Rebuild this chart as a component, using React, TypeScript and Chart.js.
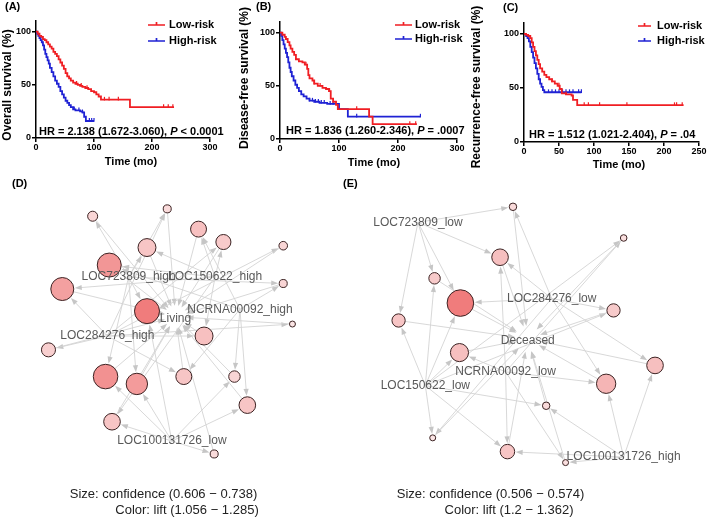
import React, { useEffect, useRef } from "react";
import { Chart, registerables } from "chart.js";
Chart.register(...registerables);

const FONT = '"Liberation Sans", Arial, Helvetica, sans-serif';
const RED = "#f01e23";
const BLUE = "#1f22d4";

// ---------- (A) Overall survival ----------
const osLowT = [0, 3, 6, 9, 12, 15, 18, 21, 24, 27, 30, 33, 36, 39, 42, 45, 48, 51, 54, 57, 60, 64, 68, 72, 76, 80, 85, 90, 95, 100, 104, 108, 112, 162, 238];
const osLowS = [100, 98, 96, 95, 93, 92, 90, 88, 86, 84, 81, 79, 77, 74, 71, 68, 65, 61, 58, 56, 54, 52, 51, 50, 49, 48, 47, 46, 44, 43, 41, 39, 36, 29, 29];
const osLowCensor = [54, 70, 78, 88, 118, 126, 142, 220, 228, 236];
const osHighT = [0, 2, 4, 6, 8, 10, 12, 14, 16, 18, 20, 22, 24, 27, 30, 33, 36, 39, 42, 45, 48, 51, 54, 57, 60, 64, 68, 72, 76, 80, 83, 86, 100];
const osHighS = [100, 98, 96, 94, 92, 90, 87, 83, 79, 76, 73, 70, 66, 62, 58, 54, 51, 48, 44, 41, 38, 35, 33, 31, 29, 27, 26, 26, 25, 24, 20, 16, 16];
const osHighCensor = [66, 74, 80, 92, 96, 100];

// ---------- (B) Disease-free survival ----------
const dfsLowT = [0, 4, 8, 10, 13, 16, 18, 21, 24, 27, 32, 38, 42, 46, 48, 50, 55, 58, 64, 72, 78, 83, 86, 90, 95, 98, 151, 157, 232];
const dfsLowS = [100, 98, 96, 94, 91, 88, 85, 82, 79, 75, 73, 72, 70, 66, 60, 57, 55, 52, 50, 48, 47, 45, 38, 35, 32, 28, 21, 14, 14];
const dfsLowCensor = [44, 58, 68, 84, 130, 220, 230];
const dfsHighT = [0, 2, 4, 6, 8, 10, 12, 14, 16, 18, 20, 23, 26, 29, 32, 36, 40, 45, 50, 58, 67, 80, 100, 115, 238];
const dfsHighS = [100, 97, 93, 89, 85, 81, 77, 72, 67, 63, 59, 55, 51, 48, 45, 42, 40, 38, 36, 35, 34, 33, 28, 21, 21];
const dfsHighCensor = [50, 55, 60, 65, 70, 75, 85, 90, 130, 238];

// ---------- (C) Recurrence-free survival ----------
const rfsLowT = [0, 3, 6, 9, 11, 13, 15, 17, 19, 21, 23, 26, 29, 32, 36, 40, 44, 48, 51, 54, 60, 68, 70, 76, 228];
const rfsLowS = [100, 99, 98, 96, 92, 88, 84, 80, 76, 72, 68, 65, 62, 60, 58, 56, 54, 52, 49, 45, 44, 43, 39, 34, 34];
const rfsLowCensor = [40, 50, 60, 86, 92, 108, 147, 215, 218, 226];
const rfsHighT = [0, 3, 5, 7, 9, 11, 13, 15, 17, 19, 21, 23, 25, 27, 29, 82];
const rfsHighS = [100, 98, 96, 93, 88, 83, 78, 73, 68, 63, 58, 54, 51, 48, 46, 46];
const rfsHighCensor = [35, 40, 45, 50, 55, 60, 65, 70, 78, 82];

const survTicks = [0, 50, 100];

// ---------- (D) rules -> Living ----------
const livingItems = ["LOC723809_high", "LOC150622_high", "NCRNA00092_high", "LOC284276_high", "LOC100131726_low"];
const livingItemX = [125, 219, 246, 102, 172];
const livingItemY = [95, 95, 130, 159, 273];
const livingRuleX = [86, 167, 201, 228, 145, 104, 293, 293, 53, 145, 303, 207, 38, 100, 134, 185, 240, 254, 107, 218];
const livingRuleY = [29, 21, 43, 57, 63, 82, 61, 102, 108, 132, 146, 159, 174, 203, 211, 203, 203, 234, 252, 287];
const livingRuleConf = [0.634, 0.62, 0.675, 0.669, 0.689, 0.731, 0.624, 0.62, 0.724, 0.738, 0.606, 0.689, 0.662, 0.735, 0.713, 0.675, 0.644, 0.68, 0.68, 0.62];
const livingRuleLift = [1.09, 1.079, 1.136, 1.113, 1.125, 1.228, 1.09, 1.09, 1.205, 1.285, 1.056, 1.136, 1.102, 1.239, 1.216, 1.125, 1.09, 1.125, 1.125, 1.079];
const livingRuleLhs = [[0], [0, 3], [1, 2], [1, 3], [0, 1], [1, 2], [3], [0, 2], [1, 3], [0, 4], [3], [1, 3], [3], [0, 4], [0, 4], [2, 3], [2, 4], [2, 4], [4, 1], [4]];

// ---------- (E) rules -> Deceased ----------
const deceasedItems = ["LOC723809_low", "LOC284276_low", "NCRNA00092_low", "LOC150622_low", "LOC100131726_high"];
const deceasedItemX = [69, 214, 164, 77, 292];
const deceasedItemY = [35, 118, 198, 213, 291];
const deceasedRuleX = [172, 292, 158, 87, 115, 281, 48, 114, 326, 273, 208, 85, 166, 229];
const deceasedRuleY = [18, 52, 73, 96, 123, 131, 142, 177, 191, 211, 235, 270, 285, 297];
const deceasedRuleConf = [0.511, 0.508, 0.541, 0.524, 0.574, 0.53, 0.53, 0.546, 0.541, 0.55, 0.511, 0.506, 0.534, 0.506];
const deceasedRuleLift = [1.216, 1.208, 1.257, 1.241, 1.362, 1.241, 1.249, 1.257, 1.257, 1.273, 1.216, 1.2, 1.249, 1.208];
const deceasedRuleLhs = [[0, 1], [3, 2], [0, 1, 2], [0, 3], [0, 1, 3], [1, 3], [0, 3], [2, 3], [1, 4], [2, 4, 1], [3, 4], [3, 1], [2, 3, 4], [2, 4]];

// ---------------------------------------------------------------

const stepAt = (t: number[], s: number[], x: number) => {
  let v = s[0];
  for (let i = 0; i < t.length; i++) if (t[i] <= x) v = s[i];
  return v;
};

type KM = {
  panel: string; yTitle: string; hr: string[]; xMax: number; xStep: number;
  lowT: number[]; lowS: number[]; lowC: number[]; highT: number[]; highS: number[]; highC: number[];
  w: number; h: number; axisW: number; axisH: number; padTop: number; padRight: number;
  panelX: number; panelY: number; yTitleX: number; yTitleY: number; xTitleX: number; xTitleY: number;
  hrX: number; hrY: number; legX1: number; legX2: number; legTX: number; legY: number[];
};

function kmPlugin(p: KM) {
  return {
    id: "kmText",
    afterDraw(chart: any) {
      const ctx = chart.ctx;
      ctx.save();
      ctx.fillStyle = "#000";
      ctx.textBaseline = "middle";
      ctx.textAlign = "left";
      ctx.font = `bold 11px ${FONT}`;
      ctx.fillText(p.panel, p.panelX, p.panelY);
      ctx.textAlign = "center";
      ctx.fillText("Time (mo)", p.xTitleX, p.xTitleY);
      ctx.save();
      ctx.translate(p.yTitleX, p.yTitleY);
      ctx.rotate(-Math.PI / 2);
      ctx.font = `bold 12px ${FONT}`;
      ctx.fillText(p.yTitle, 0, 0);
      ctx.restore();
      ctx.textAlign = "left";
      let x = p.hrX;
      p.hr.forEach((seg, i) => {
        ctx.font = `${i === 1 ? "italic " : ""}bold 11px ${FONT}`;
        ctx.fillText(seg, x, p.hrY);
        x += ctx.measureText(seg).width;
      });
      const ds = chart.data.datasets;
      [ds[0], ds[2]].forEach((d: any, i: number) => {
        const y = p.legY[i];
        ctx.strokeStyle = d.borderColor;
        ctx.lineWidth = 1.7;
        ctx.beginPath();
        ctx.moveTo(p.legX1, y);
        ctx.lineTo(p.legX2, y);
        const m = (p.legX1 + p.legX2) / 2;
        ctx.moveTo(m, y);
        ctx.lineTo(m, y - 3);
        ctx.stroke();
        ctx.fillStyle = "#000";
        ctx.font = `bold 11px ${FONT}`;
        ctx.fillText(d.label, p.legTX, y);
      });
      ctx.restore();
    },
  };
}

function kmConfig(p: KM): any {
  const curve = (t: number[], s: number[], color: string, label: string) => ({
    label, data: t.map((x, i) => ({ x, y: s[i] })), borderColor: color, backgroundColor: color,
    borderWidth: 1.8, stepped: "before", pointRadius: 0, fill: false, clip: false,
  });
  const cens = (t: number[], s: number[], c: number[], color: string, label: string) => ({
    label, data: c.map((x) => ({ x, y: stepAt(t, s, x) + 1 })), showLine: false, borderColor: color,
    backgroundColor: color, pointStyle: "line", pointRotation: 90, pointRadius: 1.8, pointBorderWidth: 1.2, clip: false,
  });
  const tickFont = { family: FONT, size: 9, weight: "bold" };
  return {
    type: "line",
    data: {
      datasets: [
        curve(p.lowT, p.lowS, RED, "Low-risk"),
        cens(p.lowT, p.lowS, p.lowC, RED, "Low-risk censored"),
        curve(p.highT, p.highS, BLUE, "High-risk"),
        cens(p.highT, p.highS, p.highC, BLUE, "High-risk censored"),
      ],
    },
    options: {
      responsive: false, animation: false, devicePixelRatio: 1, events: [],
      layout: { padding: { left: 0, top: p.padTop, right: p.padRight, bottom: 0 } },
      plugins: { legend: { display: false }, tooltip: { enabled: false }, title: { display: false } },
      scales: {
        x: {
          type: "linear", min: 0, max: p.xMax,
          ticks: { stepSize: p.xStep, font: tickFont, color: "#000", padding: 0, maxRotation: 0 },
          grid: { drawOnChartArea: false, drawTicks: true, tickLength: 4, color: "#000", lineWidth: 1.5 },
          border: { display: true, color: "#000", width: 1.5 },
          afterFit: (s: any) => { s.height = p.axisH; },
        },
        y: {
          type: "linear", min: 0, max: 110,
          afterBuildTicks: (s: any) => { s.ticks = survTicks.map((v) => ({ value: v })); },
          ticks: { font: tickFont, color: "#000", padding: 1 },
          grid: { drawOnChartArea: false, drawTicks: true, tickLength: 4, color: "#000", lineWidth: 1.5 },
          border: { display: true, color: "#000", width: 1.5 },
          afterFit: (s: any) => { s.width = p.axisW; },
        },
      },
    },
    plugins: [kmPlugin(p)],
  };
}

type Net = {
  panel: string; items: string[]; itemX: number[]; itemY: number[];
  ruleX: number[]; ruleY: number[]; conf: number[]; lift: number[]; lhs: number[][];
  confRange: [number, number]; liftRange: [number, number]; rMax: number;
  target: string; targetX: number; targetY: number; targetGap: number;
  w: number; h: number; sizeText: string; colorText: string;
  sizeX: number; colorX: number; legY1: number; legY2: number; panelX: number; panelY: number;
};

function netConfig(n: Net): any {
  const radius = (c: number) => 3 + ((c - n.confRange[0]) / (n.confRange[1] - n.confRange[0])) * (n.rMax - 3);
  const colorOf = (l: number) => {
    const t = Math.max(0, Math.min(1, (l - n.liftRange[0]) / (n.liftRange[1] - n.liftRange[0])));
    const r = Math.round(250 + (240 - 250) * t);
    const g = Math.round(228 + (124 - 228) * t);
    return `rgb(${r},${g},${g})`;
  };
  const arrow = (ctx: any, ax: number, ay: number, bx: number, by: number, g0: number, g1: number) => {
    const dx = bx - ax, dy = by - ay, L = Math.hypot(dx, dy);
    if (L < g0 + g1 + 2) return;
    const ux = dx / L, uy = dy / L;
    const sx = ax + ux * g0, sy = ay + uy * g0;
    const ex = bx - ux * g1, ey = by - uy * g1;
    const al = 7, aw = 2.6;
    ctx.strokeStyle = "#d4d4d4";
    ctx.lineWidth = 0.9;
    ctx.beginPath();
    ctx.moveTo(sx, sy);
    ctx.lineTo(ex - ux * al * 0.7, ey - uy * al * 0.7);
    ctx.stroke();
    ctx.fillStyle = "#c6c6c6";
    ctx.beginPath();
    ctx.moveTo(ex, ey);
    ctx.lineTo(ex - ux * al - uy * aw, ey - uy * al + ux * aw);
    ctx.lineTo(ex - ux * al + uy * aw, ey - uy * al - ux * aw);
    ctx.closePath();
    ctx.fill();
  };
  const plugin = {
    id: "netDraw",
    beforeDatasetsDraw(chart: any) {
      const ctx = chart.ctx, xs = chart.scales.x, ys = chart.scales.y;
      const tx = xs.getPixelForValue(n.targetX), ty = ys.getPixelForValue(n.targetY);
      ctx.save();
      n.ruleX.forEach((rx, i) => {
        const px = xs.getPixelForValue(rx), py = ys.getPixelForValue(n.ruleY[i]);
        const r = radius(n.conf[i]);
        n.lhs[i].forEach((j) => {
          arrow(ctx, xs.getPixelForValue(n.itemX[j]), ys.getPixelForValue(n.itemY[j]), px, py, 0, r + 1);
        });
        arrow(ctx, px, py, tx, ty, r, n.targetGap);
      });
      ctx.restore();
    },
    afterDatasetsDraw(chart: any) {
      const ctx = chart.ctx, xs = chart.scales.x, ys = chart.scales.y;
      ctx.save();
      ctx.textBaseline = "middle";
      ctx.textAlign = "center";
      ctx.fillStyle = "#595959";
      ctx.font = `12px ${FONT}`;
      n.items.forEach((it, j) => ctx.fillText(it, xs.getPixelForValue(n.itemX[j]), ys.getPixelForValue(n.itemY[j])));
      ctx.fillText(n.target, xs.getPixelForValue(n.targetX), ys.getPixelForValue(n.targetY) + 2);
      ctx.fillStyle = "#222";
      ctx.font = `13px ${FONT}`;
      ctx.fillText(n.sizeText, n.sizeX, n.legY1);
      ctx.fillText(n.colorText, n.colorX, n.legY2);
      ctx.fillStyle = "#000";
      ctx.textAlign = "left";
      ctx.font = `bold 11px ${FONT}`;
      ctx.fillText(n.panel, n.panelX, n.panelY);
      ctx.restore();
    },
  };
  return {
    type: "scatter",
    data: {
      datasets: [
        {
          label: "rules",
          data: n.ruleX.map((x, i) => ({ x, y: n.ruleY[i], conf: n.conf[i], lift: n.lift[i] })),
          pointRadius: (c: any) => radius(c.raw.conf),
          pointBackgroundColor: (c: any) => colorOf(c.raw.lift),
          pointBorderColor: "#3b2222",
          pointBorderWidth: 1,
          clip: false,
        },
      ],
    },
    options: {
      responsive: false, animation: false, devicePixelRatio: 1, events: [],
      layout: { padding: 0 },
      plugins: { legend: { display: false }, tooltip: { enabled: false } },
      scales: {
        x: { type: "linear", display: false, min: 0, max: n.w },
        y: { type: "linear", display: false, min: 0, max: n.h, reverse: true },
      },
    },
    plugins: [plugin],
  };
}

const panelA: KM = {
  panel: "(A)", yTitle: "Overall survival (%)", hr: ["HR = 2.138 (1.672-3.060), ", "P", " < 0.0001"], xMax: 300, xStep: 100,
  lowT: osLowT, lowS: osLowS, lowC: osLowCensor, highT: osHighT, highS: osHighS, highC: osHighCensor,
  w: 235, h: 176, axisW: 36, axisH: 38, padTop: 21, padRight: 25,
  panelX: 5, panelY: 7, yTitleX: 8, yTitleY: 85, xTitleX: 131, xTitleY: 162,
  hrX: 39, hrY: 131.5, legX1: 148, legX2: 165, legTX: 169, legY: [25, 41],
};
const panelB: KM = {
  panel: "(B)", yTitle: "Disease-free survival (%)", hr: ["HR = 1.836 (1.260-2.346), ", "P", " = .0007"], xMax: 300, xStep: 100,
  lowT: dfsLowT, lowS: dfsLowS, lowC: dfsLowCensor, highT: dfsHighT, highS: dfsHighS, highC: dfsHighCensor,
  w: 235, h: 176, axisW: 45, axisH: 37, padTop: 22, padRight: 13,
  panelX: 21, panelY: 7, yTitleX: 10, yTitleY: 78, xTitleX: 139, xTitleY: 163,
  hrX: 51, hrY: 131, legX1: 160, legX2: 177, legTX: 180, legY: [25, 39],
};
const panelC: KM = {
  panel: "(C)", yTitle: "Recurrence-free survival (%)", hr: ["HR = 1.512 (1.021-2.404), ", "P", " = .04"], xMax: 250, xStep: 50,
  lowT: rfsLowT, lowS: rfsLowS, lowC: rfsLowCensor, highT: rfsHighT, highS: rfsHighS, highC: rfsHighCensor,
  w: 239, h: 176, axisW: 54, axisH: 34, padTop: 23, padRight: 10,
  panelX: 33, panelY: 8, yTitleX: 7, yTitleY: 87, xTitleX: 149, xTitleY: 165,
  hrX: 59, hrY: 135, legX1: 168, legX2: 181, legTX: 187, legY: [26, 41],
};

const netD: Net = {
  panel: "(D)", items: livingItems, itemX: livingItemX, itemY: livingItemY,
  ruleX: livingRuleX, ruleY: livingRuleY, conf: livingRuleConf, lift: livingRuleLift, lhs: livingRuleLhs,
  confRange: [0.606, 0.738], liftRange: [1.056, 1.285], rMax: 12.5,
  target: "Living", targetX: 176, targetY: 138, targetGap: 11,
  w: 340, h: 344, sizeText: "Size: confidence (0.606 \u2212 0.738)", colorText: "Color: lift (1.056 \u2212 1.285)",
  sizeX: 163.5, colorX: 187, legY1: 318, legY2: 334, panelX: 12, panelY: 8,
};
const netE: Net = {
  panel: "(E)", items: deceasedItems, itemX: deceasedItemX, itemY: deceasedItemY,
  ruleX: deceasedRuleX, ruleY: deceasedRuleY, conf: deceasedRuleConf, lift: deceasedRuleLift, lhs: deceasedRuleLhs,
  confRange: [0.506, 0.574], liftRange: [1.2, 1.362], rMax: 13.3,
  target: "Deceased", targetX: 188, targetY: 162, targetGap: 13,
  w: 369, h: 344, sizeText: "Size: confidence (0.506 \u2212 0.574)", colorText: "Color: lift (1.2 \u2212 1.362)",
  sizeX: 150.5, colorX: 169, legY1: 318, legY2: 334, panelX: 3, panelY: 8,
};

function ChartBox({ left, top, width, height, build }: { left: number; top: number; width: number; height: number; build: () => any }) {
  const ref = useRef<HTMLCanvasElement | null>(null);
  useEffect(() => {
    const c = ref.current;
    if (!c) return;
    const chart = new Chart(c, build());
    return () => chart.destroy();
  }, []);
  return (
    <div style={{ position: "absolute", left, top, width, height }}>
      <canvas ref={ref} width={width} height={height} style={{ display: "block", width, height }} />
    </div>
  );
}

export default function App() {
  return (
    <div style={{ position: "fixed", left: 0, top: 0, width: 709, height: 520, background: "#fff", overflow: "hidden" }}>
      <ChartBox left={0} top={0} width={panelA.w} height={panelA.h} build={() => kmConfig(panelA)} />
      <ChartBox left={235} top={0} width={panelB.w} height={panelB.h} build={() => kmConfig(panelB)} />
      <ChartBox left={470} top={0} width={panelC.w} height={panelC.h} build={() => kmConfig(panelC)} />
      <ChartBox left={0} top={176} width={netD.w} height={netD.h} build={() => netConfig(netD)} />
      <ChartBox left={340} top={176} width={netE.w} height={netE.h} build={() => netConfig(netE)} />
    </div>
  );
}
